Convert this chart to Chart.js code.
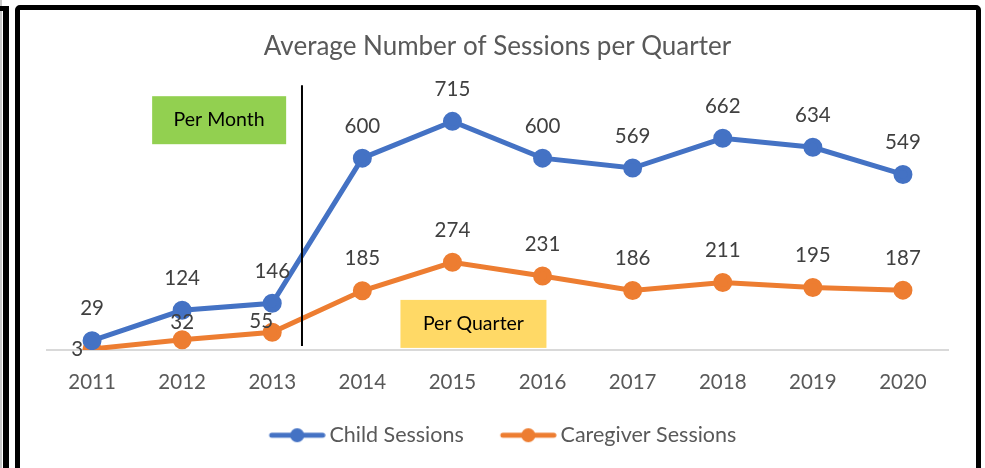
<!DOCTYPE html>
<html>
<head>
<meta charset="utf-8">
<script src="https://cdn.jsdelivr.net/npm/chart.js@4.4.0/dist/chart.umd.min.js"></script>
<style>
  html, body { margin:0; padding:0; background:#fff; width:985px; height:468px; overflow:hidden; }
  #edge { position:absolute; left:0; top:0; width:2px; height:468px; background:#c8c8c8; }
  #bracket { position:absolute; left:3px; top:6px; width:6px; height:470px; background:#000; }
  #bracketTop { position:absolute; left:0; top:6px; width:9px; height:5px; background:#000; }
  #frame { position:absolute; left:15px; top:5px; width:956px; height:480px;
           border:5px solid #000; border-radius:5px; background:#fff; }
  #wrap { position:absolute; left:21px; top:10px; width:954px; height:458px; }
</style>
</head>
<body>
<div id="edge"></div>
<div id="bracket"></div>
<div id="bracketTop"></div>
<div id="frame"></div>
<div id="wrap"><canvas id="grafica"></canvas></div>
<script>

const anios = ["2011","2012","2013","2014","2015","2016","2017","2018","2019","2020"];
const sesionesNino = [29, 124, 146, 600, 715, 600, 569, 662, 634, 549];
const sesionesCuidador = [3, 32, 55, 185, 274, 231, 186, 211, 195, 187];

const fuente = "Lato, 'Open Sans', sans-serif";

// icono de leyenda: linea con punto, pegado al texto por la derecha
function iconoLeyenda(color){
    const c = document.createElement("canvas");
    c.width = 90; c.height = 16;
    const ctx = c.getContext("2d");
    ctx.strokeStyle = color;
    ctx.lineWidth = 5;
    ctx.lineCap = "round";
    ctx.beginPath();
    ctx.moveTo(36, 8);
    ctx.lineTo(87, 8);
    ctx.stroke();
    ctx.fillStyle = color;
    ctx.beginPath();
    ctx.arc(61.5, 8, 7, 0, Math.PI * 2);
    ctx.fill();
    return c;
}

// etiquetas de valores encima de cada punto
const etiquetas = {
    id: "etiquetas",
    afterDatasetsDraw(chart){
        const ctx = chart.ctx;
        ctx.save();
        ctx.font = "20.5px " + fuente;
        ctx.fillStyle = "#404040";
        ctx.textBaseline = "middle";
        chart.data.datasets.forEach((ds, i) => {
            const meta = chart.getDatasetMeta(i);
            meta.data.forEach((p, j) => {
                let dx = 0, dy = -32;
                ctx.textAlign = "center";
                if(i === 1 && j === 0){ ctx.textAlign = "right"; dx = -9; dy = 0; }
                if(i === 1 && j === 1){ dy = -17; }
                if(i === 1 && j === 2){ dx = -11; dy = -11; }
                ctx.fillText(ds.data[j], p.x + dx, p.y + dy);
            });
        });
        ctx.restore();
    }
};

// cajas "Per Month" / "Per Quarter" y la linea divisoria
const notas = {
    id: "notas",
    afterLayout(chart){
        // correr la leyenda un poco a la izquierda
        chart.legend.left -= 8;
        chart.legend.right -= 8;
    },
    afterDraw(chart){
        const ctx = chart.ctx;
        const x = chart.scales.x;
        const area = chart.chartArea;
        const paso = x.getPixelForValue(1) - x.getPixelForValue(0);
        ctx.save();

        const xl = x.getPixelForValue(2) + paso * 0.33;
        ctx.strokeStyle = "#000";
        ctx.lineWidth = 2;
        ctx.beginPath();
        ctx.moveTo(xl, area.top - 9);
        ctx.lineTo(xl, area.bottom - 4);
        ctx.stroke();

        ctx.font = "19.5px " + fuente;
        ctx.textAlign = "center";
        ctx.textBaseline = "middle";

        const g0 = x.getPixelForValue(1) - 30;
        ctx.fillStyle = "#92D050";
        ctx.fillRect(g0, area.top + 2, 134, 48);
        ctx.fillStyle = "#000";
        ctx.fillText("Per Month", g0 + 67, area.top + 26);

        const q0 = x.getPixelForValue(4) - 52;
        ctx.fillStyle = "#FFD966";
        ctx.fillRect(q0, area.bottom - 50, 146, 48);
        ctx.fillStyle = "#000";
        ctx.fillText("Per Quarter", q0 + 73, area.bottom - 26);

        ctx.restore();
    }
};

new Chart(
    document.getElementById("grafica"),
    {
        type:"line",
        data:{
            labels:anios,
            datasets:[
                {
                    label:"Child Sessions",
                    data:sesionesNino,
                    borderColor:"#4472C4",
                    backgroundColor:"#4472C4",
                    borderWidth:5,
                    pointRadius:7,
                    pointHoverRadius:7,
                    pointStyle:"circle",
                    fill:false,
                    tension:0
                },
                {
                    label:"Caregiver Sessions",
                    data:sesionesCuidador,
                    borderColor:"#ED7D31",
                    backgroundColor:"#ED7D31",
                    borderWidth:5,
                    pointRadius:7,
                    pointHoverRadius:7,
                    pointStyle:"circle",
                    fill:false,
                    tension:0
                }
            ]
        },
        options:{
            responsive:true,
            maintainAspectRatio:false,
            animation:false,
            layout:{ padding:{ left:26, right:27, top:12, bottom:12 } },
            plugins:{
                title:{
                    display:true,
                    text:"Average Number of Sessions per Quarter",
                    color:"#595959",
                    font:{ family:fuente, size:26, weight:"normal" },
                    padding:{ top:9, bottom:32 }
                },
                legend:{
                    position:"bottom",
                    labels:{
                        color:"#595959",
                        font:{ family:fuente, size:21.5 },
                        usePointStyle:true,
                        pointStyleWidth:76,
                        boxHeight:16,
                        padding:10,
                        generateLabels(chart){
                            return chart.data.datasets.map((ds, i) => ({
                                text:ds.label,
                                pointStyle:iconoLeyenda(ds.borderColor),
                                fontColor:"#595959",
                                datasetIndex:i,
                                hidden:false,
                                lineWidth:0
                            }));
                        }
                    }
                },
                tooltip:{ enabled:false }
            },
            scales:{
                x:{
                    offset:true,
                    grid:{ display:false, drawTicks:false },
                    border:{ display:true, color:"#d9d9d9", width:2 },
                    ticks:{
                        color:"#595959",
                        font:{ family:fuente, size:20.5 },
                        padding:20
                    }
                },
                y:{
                    display:false,
                    min:0,
                    max:800
                }
            }
        },
        plugins:[etiquetas, notas]
    }
);

</script>
</body>
</html>
